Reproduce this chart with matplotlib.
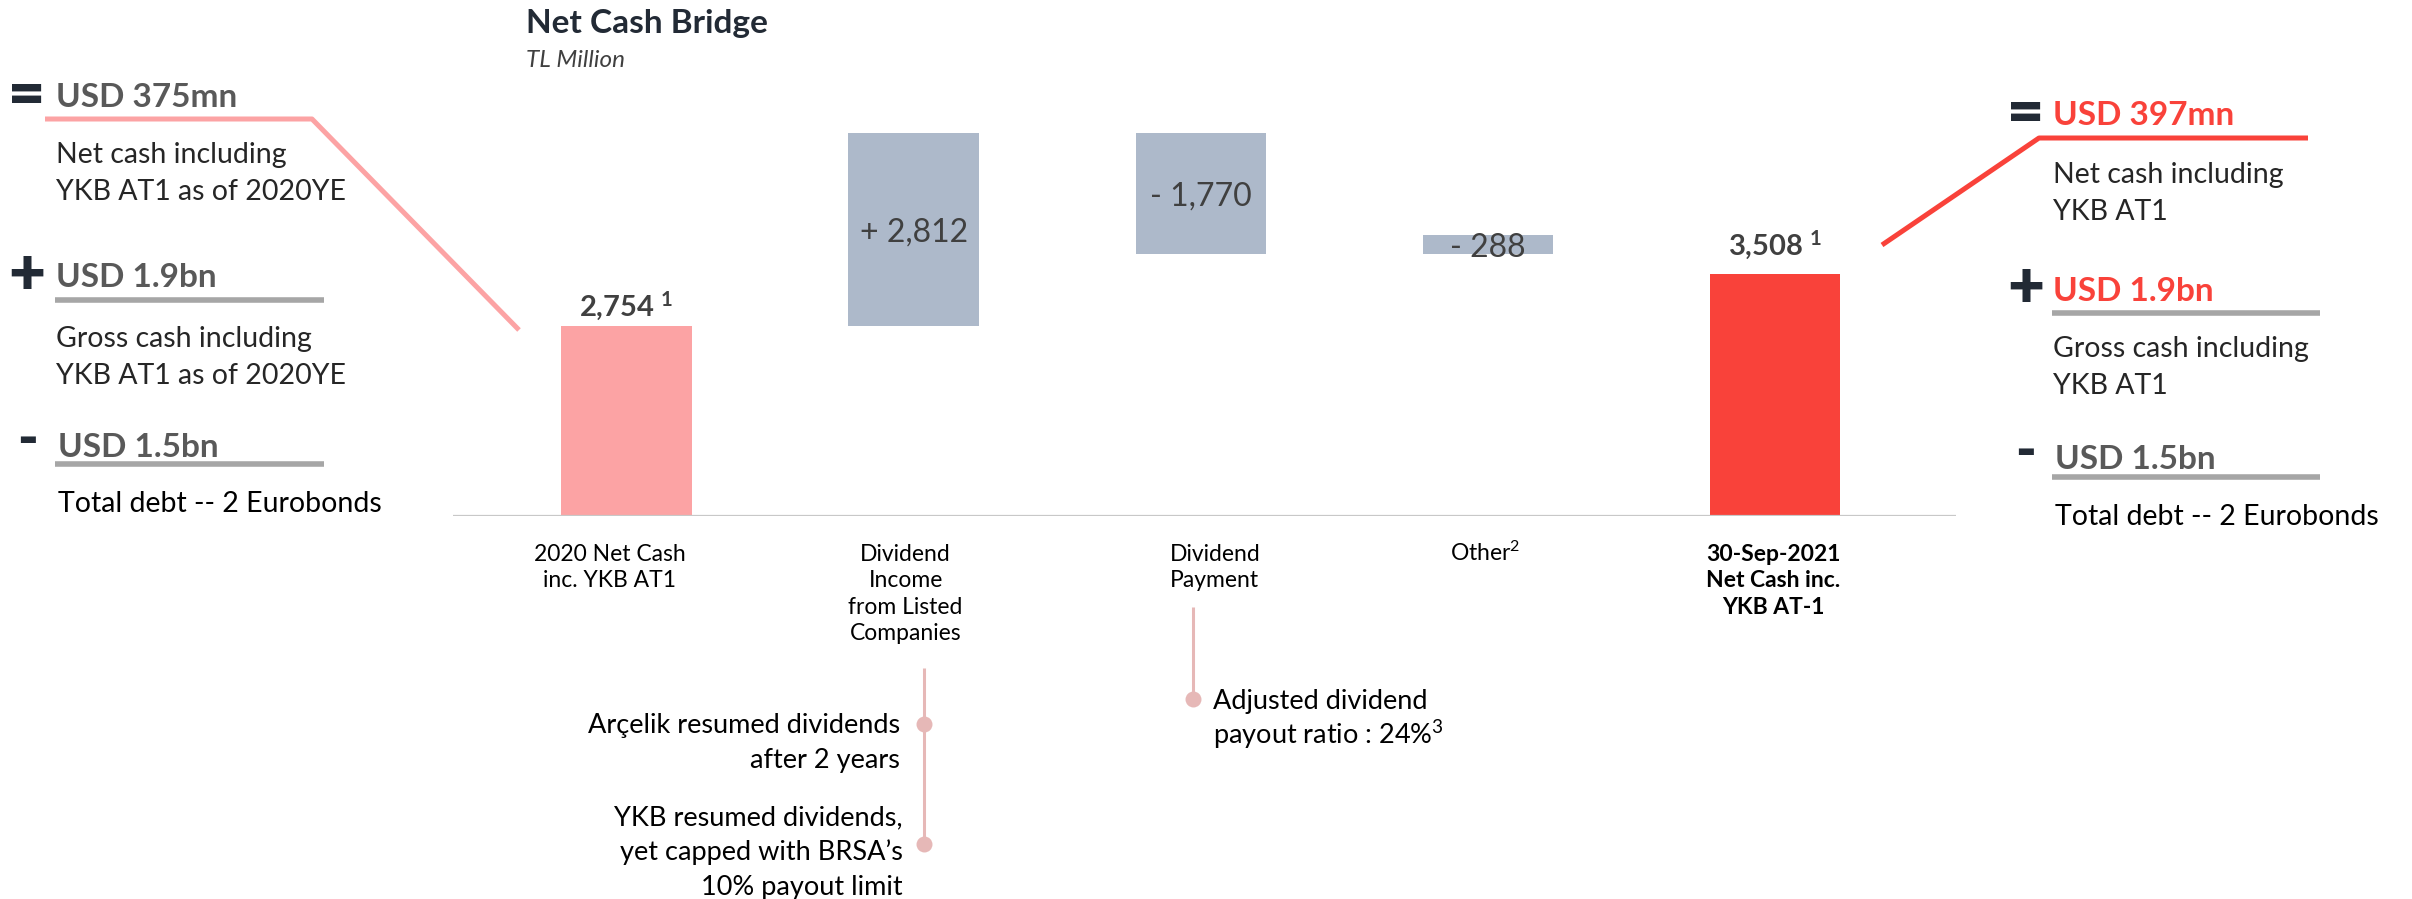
import matplotlib
matplotlib.use('Agg')
import matplotlib.pyplot as plt
import matplotlib.transforms as mtransforms
from matplotlib.lines import Line2D

###############################################################
# Data
###############################################################
categories = ['2020 Net Cash\ninc. YKB AT1',
              'Dividend\nIncome\nfrom Listed\nCompanies',
              'Dividend\nPayment',
              'Other$^2$',
              '30-Sep-2021\nNet Cash inc.\nYKB AT-1']
values = [2754, 2812, -1770, -288, 3508]
is_total = [True, False, False, False, True]
value_text = ['2,754 $^\\mathbf{1}$', '+ 2,812', '- 1,770', '- 288', '3,508 $^\\mathbf{1}$']

signs = ['=', '+', '-']
left_amounts = ['USD 375mn', 'USD 1.9bn', 'USD 1.5bn']
left_notes = ['Net cash including\nYKB AT1 as of 2020YE',
              'Gross cash including\nYKB AT1 as of 2020YE',
              'Total debt -- 2 Eurobonds']
right_amounts = ['USD 397mn', 'USD 1.9bn', 'USD 1.5bn']
right_notes = ['Net cash including\nYKB AT1',
               'Gross cash including\nYKB AT1',
               'Total debt -- 2 Eurobonds']
income_notes = ['Ar\u00e7elik resumed dividends\nafter 2 years',
                'YKB resumed dividends,\nyet capped with BRSA\u2019s\n10% payout limit']
payment_note = 'Adjusted dividend\npayout ratio : 24%$^3$'

###############################################################
# Style
###############################################################
plt.rcParams['font.family'] = ['Lato', 'DejaVu Sans']
plt.rcParams['mathtext.fontset'] = 'custom'
plt.rcParams['mathtext.rm'] = 'Lato'
plt.rcParams['mathtext.it'] = 'Lato:italic'
plt.rcParams['mathtext.bf'] = 'Lato:bold'
W, H = 2412, 899
PINK = '#FCA3A4'
SLATE = '#ADB9CA'
RED = '#F9423A'
NAVY = '#222A35'
DGREY = '#404040'
MGREY = '#595959'
LINE_GREY = '#A6A6A6'
STEM = '#E6B8B7'
bar_colors = [PINK, SLATE, SLATE, SLATE, RED]

fig = plt.figure(figsize=(W / 100, H / 100), dpi=100)
fig.patch.set_facecolor('white')
# pixel coords, origin top-left
pix = mtransforms.Affine2D().scale(1.0 / W, -1.0 / H).translate(0, 1) + fig.transFigure


def ptext(x, y, s, step=0, **kw):
    for k, line in enumerate(s.split('\n')):
        fig.text(x, y + k * step, line, transform=pix, va='baseline', **kw)


def pline(xs, ys, **kw):
    fig.add_artist(Line2D(xs, ys, transform=pix, solid_capstyle='butt', **kw))


###############################################################
# Waterfall
###############################################################
bottoms, heights = [], []
level = 0
for v, tot in zip(values, is_total):
    if tot:
        bottoms.append(0)
        heights.append(v)
        level = v
    else:
        bottoms.append(min(level, level + v))
        heights.append(abs(v))
        level += v
# on the slide the "Other" box sits on the bottom of the payment box
bottoms[3] += heights[3]

ax = fig.add_axes([452.7 / W, 1 - 515.5 / H, 1503.3 / W, 415.5 / H])
ax.bar(range(len(values)), heights, bottom=bottoms, width=0.454,
       color=bar_colors, linewidth=0, zorder=2)
ax.set_xlim(-0.605, 4.63)
ax.set_ylim(0, 6039)
ax.axhline(0, color='#C8C8C8', linewidth=1.6, zorder=3)
ax.axis('off')

# value labels
total_gap = {0: 9, 4: 19}
for i, s in enumerate(value_text):
    top = bottoms[i] + heights[i]
    if is_total[i]:
        ax.annotate(s, (i, top), xytext=(0, total_gap[i] * 0.72),
                    textcoords='offset points', ha='center', va='baseline',
                    fontsize=21, fontweight='bold', color=DGREY)
    else:
        ax.annotate(s, (i, bottoms[i] + heights[i] / 2.0), xytext=(0, -12.5 * 0.72),
                    textcoords='offset points', ha='center', va='baseline',
                    fontsize=23, color=DGREY)

# category labels under the axis
bx = mtransforms.blended_transform_factory(ax.transData, pix)
label_dx = [-17, -8, 14, -3, -2]
for i, lab in enumerate(categories):
    tr = mtransforms.offset_copy(bx, fig=fig, x=label_dx[i], y=0, units='dots')
    for k, line in enumerate(lab.split('\n')):
        ax.text(i, 561 + k * 26.3, line, transform=tr, ha='center', va='baseline',
                fontsize=16.5, color='black',
                fontweight='bold' if i == 4 else 'normal')

###############################################################
# Title
###############################################################
ptext(526.5, 33, 'Net Cash Bridge', fontsize=24, fontweight='bold', color=NAVY)
ptext(526.5, 67, 'TL Million', fontsize=17.5, style='italic', color=DGREY)

###############################################################
# Side panels
###############################################################
sign_dy = [0.30, 0.30, 0.24]


def panel(x_sign, x_txt, amounts, notes, amt_color, base_amt, base_note, sign_cy):
    for k in range(3):
        size = 46 if k < 2 else 40
        ptext(x_sign, sign_cy[k] + sign_dy[k] * size * 100 / 72, signs[k],
              ha='center', fontsize=size, fontweight='heavy', color=NAVY)
        col = amt_color if k < 2 else MGREY
        ptext(x_txt[k], base_amt[k], amounts[k], fontsize=24, fontweight='bold', color=col)
        ptext(x_txt[k], base_note[k], notes[k], step=37, fontsize=20.5,
              color='black' if k == 2 else '#262626')


panel(27, [56, 56, 58], left_amounts, left_notes, MGREY,
      [107, 287, 457], [163, 347, 512], [96, 275, 443.5])
panel(2026, [2053, 2053, 2055], right_amounts, right_notes, RED,
      [125, 301, 469], [183, 357, 525], [114, 287.5, 456])

# connectors and underlines
pline([45, 312, 519], [119, 119, 330], color=PINK, linewidth=3.6)
pline([54.5, 323.7], [300, 300], color=LINE_GREY, linewidth=4)
pline([54.5, 323.7], [464, 464], color=LINE_GREY, linewidth=4)
pline([1882, 2039, 2308], [245, 138, 138], color=RED, linewidth=3.6)
pline([2052, 2320], [313, 313], color=LINE_GREY, linewidth=4)
pline([2052, 2320], [477, 477], color=LINE_GREY, linewidth=4)

###############################################################
# Call-outs under the bars
###############################################################
pline([924, 924], [668, 844], color=STEM, linewidth=2.2)
pline([924, 924], [724, 844], color=STEM, linewidth=0, marker='o',
      markersize=11.5, markerfacecolor=STEM, markeredgewidth=0)
ptext(900, 733, income_notes[0], step=35, ha='right', fontsize=19.5, color='black')
ptext(903, 825, income_notes[1], step=35, ha='right', fontsize=19.5, color='black')

pline([1193, 1193], [607, 699], color=STEM, linewidth=2.2)
pline([1193], [699], color=STEM, linewidth=0, marker='o',
      markersize=11.5, markerfacecolor=STEM, markeredgewidth=0)
ptext(1213, 709, payment_note, step=35, fontsize=19.5, color='black')

plt.savefig('out.png', dpi=100, facecolor='white')
plt.close()
